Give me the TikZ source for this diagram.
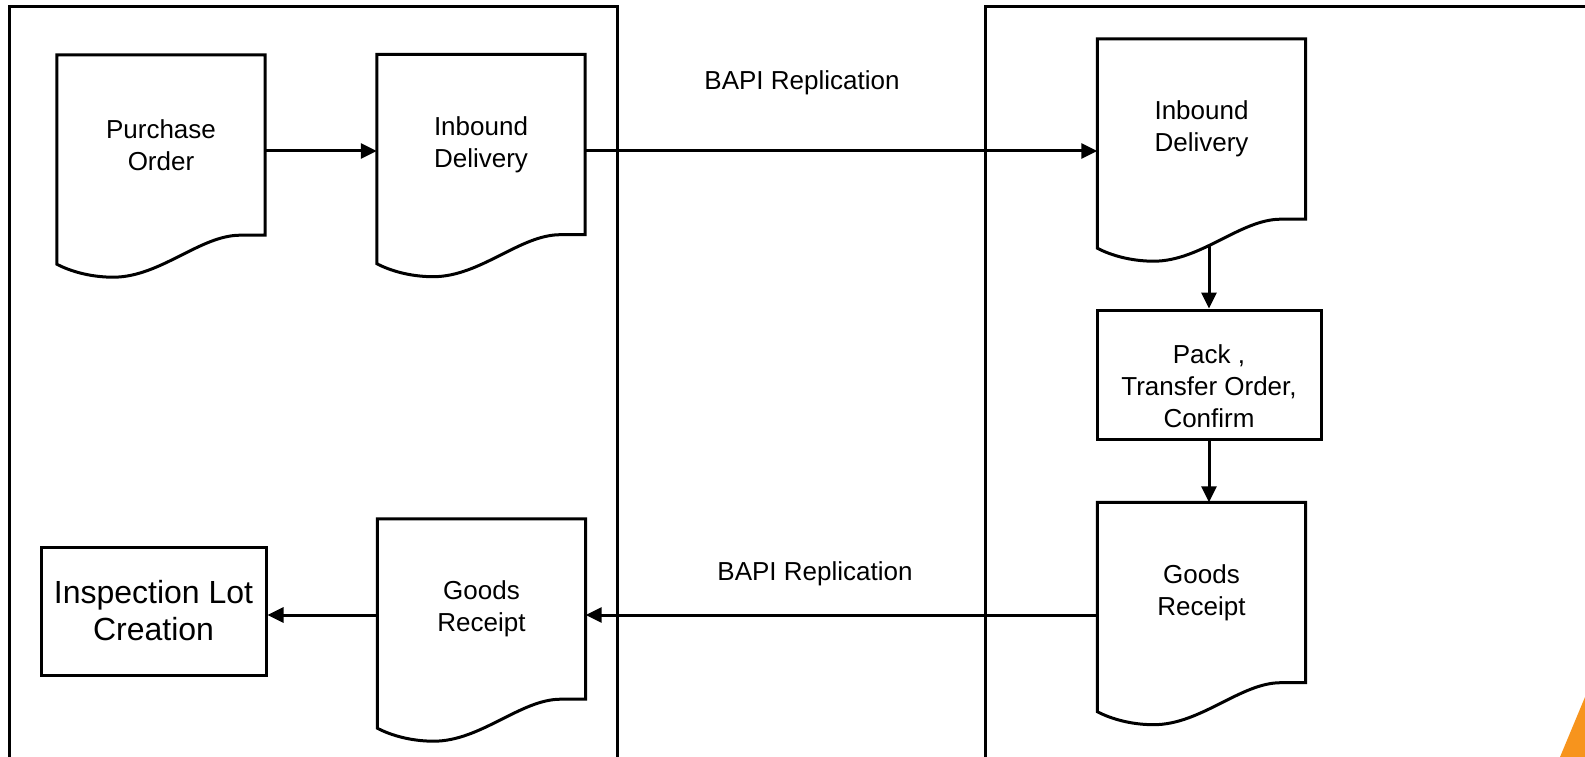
\documentclass[tikz,border=0pt]{standalone}
\usepackage{fontspec}
\setmainfont{Liberation Sans}
\usetikzlibrary{arrows.meta,calc}
\definecolor{accent}{RGB}{247,148,29}
\tikzset{
  ln/.style={line width=3pt},
  arr/.style={ln, -{Triangle[length=16pt,width=15pt]}},
  docnode/.style={minimum width=208pt, minimum height=180pt, inner sep=0pt, align=center, font=\fontsize{26}{32}\selectfont},
  procbox/.style={draw, ln, inner sep=0pt, align=center, font=\fontsize{26}{32}\selectfont},
  lbl/.style={inner sep=0pt, align=center, font=\fontsize{26}{32}\selectfont}
}
\newcommand{\docoutline}[1]{%
  \draw[ln, line join=miter] (#1.north west) -- (#1.north east) -- (#1.south east)
    -- ($(#1.south east)+(-25,0)$)
    .. controls ($(#1.south east)+(-65,0)$) and ($(#1.south east)+(-105,42)$) .. ($(#1.south east)+(-152,42)$)
    .. controls ($(#1.south east)+(-175,42)$) and ($(#1.south east)+(-195,36)$) .. ($(#1.south west)+(0,29)$)
    -- cycle;}
\begin{document}
\begin{tikzpicture}[x=1pt, y=-1pt]
\useasboundingbox (0,0) rectangle (1585,757);
\clip (0,0) rectangle (1585,757);
\fill[white] (0,0) rectangle (1585,757);

% swimlane frames
\draw[ln] (9,790) -- (9,7) -- (617,7) -- (617,790);
\draw[ln] (985,790) -- (985,7) -- (1620,7);

% documents
\node[docnode] (po) at (161,145) {Purchase\\Order};
\docoutline{po}
\node[docnode] (ib1) at (481,144.5) {Inbound\\Delivery};
\docoutline{ib1}
\node[docnode] (ib2) at (1201.5,129) {Inbound\\Delivery};
\docoutline{ib2}
\node[docnode] (gr2) at (1201.5,592.5) {Goods\\Receipt};
\docoutline{gr2}
\node[docnode] (gr1) at (481.5,609) {Goods\\Receipt};
\docoutline{gr1}

% process boxes
\node[procbox, minimum width=224pt, minimum height=129pt] (pack) at (1209,374.5) {};
\node[lbl] (packtxt) at ($(pack.center)+(0,12)$) {Pack ,\\Transfer Order,\\Confirm};
\node[procbox, minimum width=225pt, minimum height=128pt, font=\fontsize{32}{37}\selectfont] (insp) at (153.5,611) {Inspection Lot\\Creation};

% labels
\node[lbl] (bapi1) at (802,83) {BAPI Replication};
\node[lbl] (bapi2) at (815,574) {BAPI Replication};

% connectors
\coordinate (ib2w) at ($(ib2.south)+(0,27)$);
\draw[arr] (po.east |- 0,151) -- (ib1.west |- 0,151);
\draw[arr] (ib1.east |- 0,151) -- (ib2.west |- 0,151);
\draw[arr] (ib2w -| pack.north) -- (pack.north);
\draw[arr] (pack.south) -- (gr2.north -| pack.south);
\draw[arr] (gr2.west |- 0,615) -- (gr1.east |- 0,615);
\draw[arr] (gr1.west |- 0,615) -- (insp.east |- 0,615);

% corner accent
\fill[accent] (1585,697) -- (1560,757) -- (1585,757) -- cycle;
\end{tikzpicture}
\end{document}
